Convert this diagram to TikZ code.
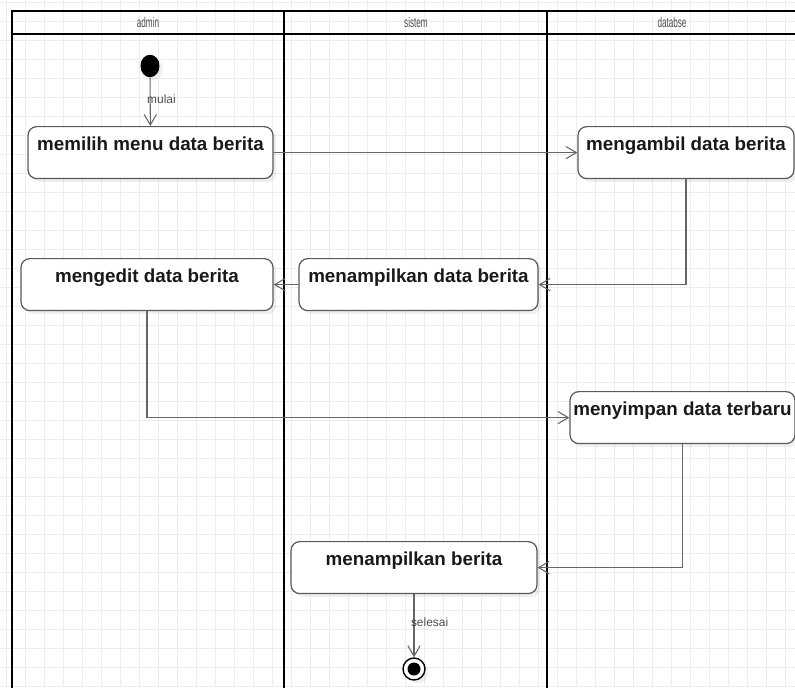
\documentclass[tikz,border=0pt]{standalone}
\usepackage{fontspec}
\setmainfont{Liberation Sans}
\newfontfamily\lanefont[FakeStretch=0.58]{Liberation Sans}
\usetikzlibrary{shapes,arrows.meta,positioning,shadows}

\begin{document}
\begin{tikzpicture}[
    x=0.02cm, y=-0.02cm,
    >={Straight Barb[length=6pt,width=7pt]},
    action/.style={rectangle, rounded corners=5pt, draw=black!65, fill=white, line width=0.7pt, minimum height=1.04cm, inner xsep=0pt, inner ysep=0pt, text height=13.6pt, text depth=15.9pt, font=\fontsize{10.7}{12}\selectfont\bfseries, text=black!90, anchor=north, drop shadow={shadow xshift=2pt, shadow yshift=-2pt, opacity=0.12}},
    flow/.style={->, draw=black!60, line width=0.6pt},
    lane/.style={draw=black, line width=1.1pt},
    lanetitle/.style={font=\lanefont\fontsize{8}{9}\selectfont, text=black!70},
    guard/.style={font=\fontsize{6.8}{8}\selectfont, text=black!70, anchor=west, inner sep=0pt},
    gridline/.style={draw=black!7, line width=0.4pt},
]
    \useasboundingbox (0,0) rectangle (795,687);

    % Grid
    \foreach \gx in {6,25,...,795} \draw[gridline] (\gx,0) -- (\gx,687);
    \foreach \gy in {2,21,...,687} \draw[gridline] (0,\gy) -- (795,\gy);

    % Swimlanes
    \draw[lane] (800,11) -- (12,11) -- (12,690);
    \draw[lane] (12,34) -- (800,34);
    \draw[lane] (284,11) -- (284,690);
    \draw[lane] (547,11) -- (547,690);
    \node[lanetitle] (admin) at (148,22) {admin};
    \node[lanetitle] (sistem) at (416,22) {sistem};
    \node[lanetitle] (db) at (672,22) {databse};

    % Start
    \node[ellipse, fill=black, minimum width=0.38cm, minimum height=0.45cm, inner sep=0pt, drop shadow={shadow xshift=2pt, shadow yshift=-2pt, opacity=0.12}] (start) at (150,66) {};

    % Actions
    \node[action, minimum width=4.9cm] (pilih) at (150.5,126) {memilih menu data berita};
    \node[action, minimum width=4.32cm] (ambil) at (686,126) {mengambil data berita};
    \node[action, minimum width=4.78cm] (tampil) at (418.5,258) {menampilkan data berita};
    \node[action, minimum width=5.04cm] (edit) at (147,258) {mengedit data berita};
    \node[action, minimum width=4.5cm] (simpan) at (682.5,391) {menyimpan data terbaru};
    \node[action, minimum width=4.92cm] (hasil) at (414,541) {menampilkan berita};

    % End
    \node[circle, draw=black, line width=0.8pt, fill=white, minimum size=0.44cm, inner sep=0pt, drop shadow={shadow xshift=2pt, shadow yshift=-2pt, opacity=0.12}] (end) at (414,669) {};
    \node[circle, fill=black, minimum size=0.26cm, inner sep=0pt] (endin) at (end) {};

    % Connections
    \draw[flow] (start) -- node[guard, pos=0.45, xshift=-2pt] (mulai) {mulai} (pilih);
    \draw[flow] (pilih) -- (ambil);
    \draw[flow] (ambil.south) |- (tampil.east);
    \draw[flow] (tampil.west) -- (tampil.west -| edit.east);
    \draw[flow] (edit.south) |- (simpan.west);
    \draw[flow] (simpan.south) |- (hasil.east);
    \draw[flow] (hasil) -- node[guard, pos=0.45, xshift=-2pt] (selesai) {selesai} (end);
\end{tikzpicture}
\end{document}
